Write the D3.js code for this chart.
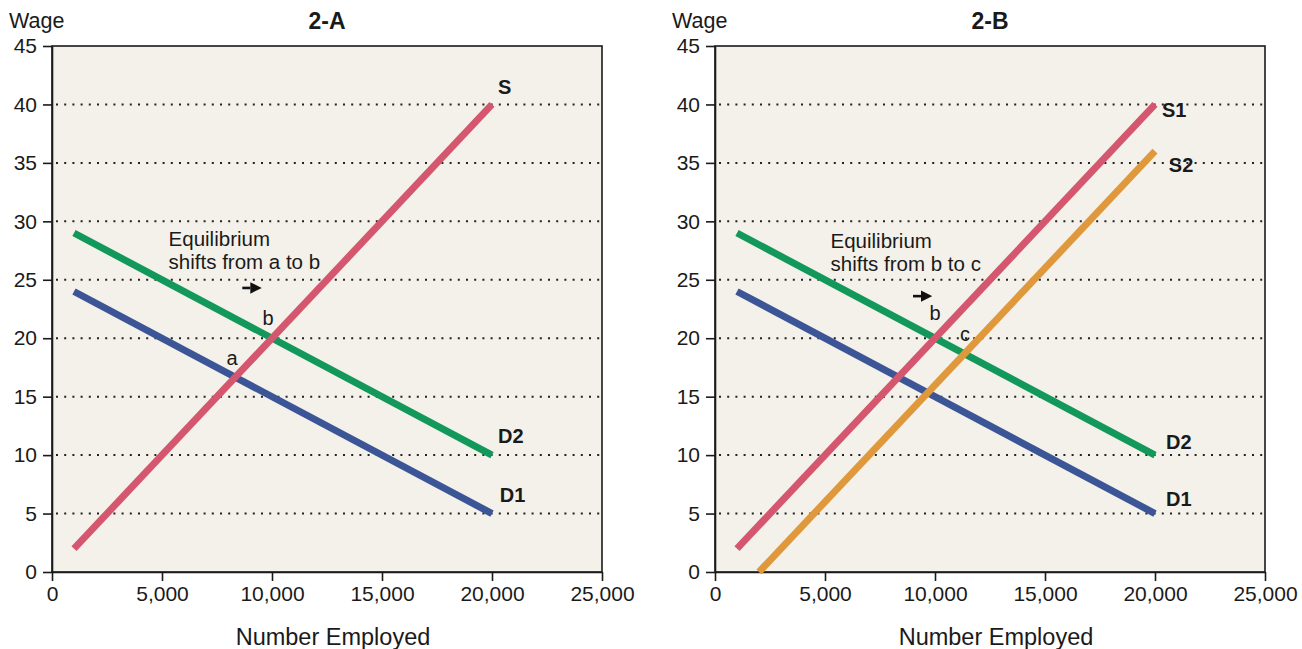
<!DOCTYPE html>
<html>
<head>
<meta charset="utf-8">
<script src="https://cdn.jsdelivr.net/npm/d3@7"></script>
<style>
  body { margin: 0; background: #fff; font-family: "Liberation Sans", Arial, sans-serif; }
  .axis text { font-family: "Liberation Sans", Arial, sans-serif; font-size: 21px; fill: #1a1a1a; }
  .axis path, .axis line { stroke: #1a1a1a; stroke-width: 1.6; }
</style>
</head>
<body>
<svg id="chart" width="1302" height="649"></svg>
<script>
// values
const yTicks = [0, 5, 10, 15, 20, 25, 30, 35, 40, 45];
const xTicks = [0, 5000, 10000, 15000, 20000, 25000];
const gridValues = [5, 10, 15, 20, 25, 30, 35, 40];

// each line: [employed, wage] end points
const supplyS  = [[1000, 2], [20000, 40]];
const supplyS2 = [[2000, 0], [20000, 36]];
const demandD2 = [[1000, 29], [20000, 10]];
const demandD1 = [[1000, 24], [20000, 5]];

const panelA = {
  title: "2-A", left: 52,
  lines: [
    {name: "D1", pts: demandD1, color: "#3b5596", lx: 20350, ly: 6.6},
    {name: "D2", pts: demandD2, color: "#12985b", lx: 20270, ly: 11.6},
    {name: "S", pts: supplyS, color: "#d4566f", lx: 20270, ly: 41.5}
  ],
  note: ["Equilibrium", "shifts from a to b"], noteAt: [5300, 27.9],
  arrow: [8650, 24.3],
  points: [{t: "a", x: 8180, y: 18.3}, {t: "b", x: 9820, y: 21.7}]
};
const panelB = {
  title: "2-B", left: 715,
  lines: [
    {name: "D1", pts: demandD1, color: "#3b5596", lx: 20500, ly: 6.25},
    {name: "D2", pts: demandD2, color: "#12985b", lx: 20500, ly: 11.1},
    {name: "S1", pts: supplyS, color: "#d4566f", lx: 20320, ly: 39.5},
    {name: "S2", pts: supplyS2, color: "#e0983c", lx: 20630, ly: 34.8}
  ],
  note: ["Equilibrium", "shifts from b to c"], noteAt: [5250, 27.7],
  arrow: [9000, 23.6],
  points: [{t: "b", x: 10000, y: 22.2}, {t: "c", x: 11360, y: 20.4}]
};

const svg = d3.select("#chart");
const plotW = 550, plotTop = 46, plotBottom = 572;

svg.append("defs").append("marker")
  .attr("id", "head")
  .attr("viewBox", "0 0 10 10")
  .attr("refX", 0).attr("refY", 5)
  .attr("markerWidth", 4.4).attr("markerHeight", 5)
  .attr("markerUnits", "strokeWidth")
  .attr("orient", "auto")
  .append("path").attr("d", "M0,0 L10,5 L0,10 Z").attr("fill", "#111");

function drawPanel(p) {
  const x = d3.scaleLinear().domain([0, 25000]).range([p.left, p.left + plotW]);
  const y = d3.scaleLinear().domain([0, 45]).range([plotBottom, plotTop]);
  const g = svg.append("g");

  g.append("rect")
    .attr("x", x(0)).attr("y", y(45))
    .attr("width", x(25000) - x(0)).attr("height", y(0) - y(45))
    .attr("fill", "#f4f1ea")
    .attr("stroke", "#1a1a1a").attr("stroke-width", 1.6);

  g.selectAll(".grid").data(gridValues).enter()
    .append("line")
    .attr("x1", x(0) + 4).attr("x2", x(25000))
    .attr("y1", d => y(d)).attr("y2", d => y(d))
    .attr("stroke", "#222").attr("stroke-width", 2)
    .attr("stroke-dasharray", "2,6.2");

  g.append("g").attr("class", "axis")
    .attr("transform", `translate(${x(0)},0)`)
    .call(d3.axisLeft(y).tickValues(yTicks).tickSize(9).tickPadding(6).tickSizeOuter(0));

  g.append("g").attr("class", "axis")
    .attr("transform", `translate(0,${y(0)})`)
    .call(d3.axisBottom(x).tickValues(xTicks).tickFormat(d3.format(",")).tickSize(9).tickPadding(5).tickSizeOuter(0));

  const line = d3.line().x(d => x(d[0])).y(d => y(d[1]));
  p.lines.forEach(l => {
    g.append("path")
      .attr("d", line(l.pts))
      .attr("fill", "none")
      .attr("stroke", l.color)
      .attr("stroke-width", 7);
    g.append("text")
      .attr("x", x(l.lx)).attr("y", y(l.ly))
      .attr("dy", "0.35em")
      .attr("font-size", 20).attr("font-weight", "bold").attr("fill", "#1a1a1a")
      .text(l.name);
  });

  const note = g.append("text")
    .attr("x", x(p.noteAt[0])).attr("y", y(p.noteAt[1]))
    .attr("font-size", 20.5).attr("fill", "#1a1a1a");
  p.note.forEach((s, i) => note.append("tspan")
    .attr("x", x(p.noteAt[0])).attr("dy", i ? 23 : 0).text(s));

  g.append("line")
    .attr("x1", x(p.arrow[0])).attr("x2", x(p.arrow[0]) + 8)
    .attr("y1", y(p.arrow[1])).attr("y2", y(p.arrow[1]))
    .attr("stroke", "#111").attr("stroke-width", 2.6)
    .attr("marker-end", "url(#head)");

  g.selectAll(".pt").data(p.points).enter()
    .append("text")
    .attr("x", d => x(d.x)).attr("y", d => y(d.y))
    .attr("text-anchor", "middle").attr("dy", "0.35em")
    .attr("font-size", 20).attr("fill", "#1a1a1a")
    .text(d => d.t);

  svg.append("text")
    .attr("x", p.left - 43).attr("y", 28)
    .attr("font-size", 21.5).attr("fill", "#1a1a1a")
    .text("Wage");
  svg.append("text")
    .attr("x", (x(0) + x(25000)) / 2).attr("y", 29)
    .attr("text-anchor", "middle")
    .attr("font-size", 23).attr("font-weight", "bold").attr("fill", "#1a1a1a")
    .text(p.title);
  svg.append("text")
    .attr("x", (x(0) + x(25000)) / 2 + 6).attr("y", 645)
    .attr("text-anchor", "middle")
    .attr("font-size", 23.5).attr("fill", "#1a1a1a")
    .text("Number Employed");
}

drawPanel(panelA);
drawPanel(panelB);
</script>
</body>
</html>
